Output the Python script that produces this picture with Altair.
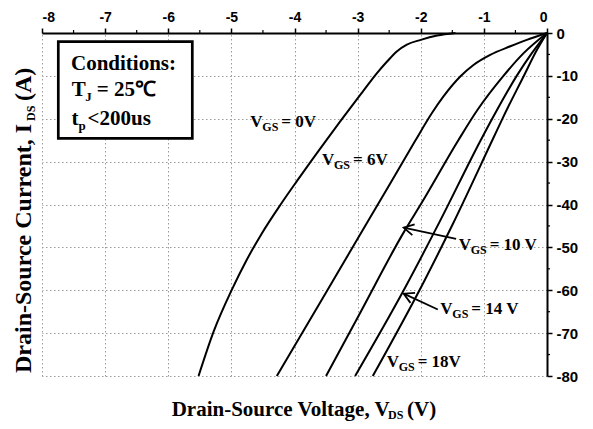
import math
import altair as alt
import pandas as pd

# ---------------- data ----------------
vgs_names = ["0V", "6V", "10V", "14V", "18V"]

vds_0 = [-1.45, -1.74, -2.00, -2.22, -2.38, -2.53, -2.69, -2.93, -3.27, -3.59, -3.96, -4.22, -4.52, -4.76, -4.99, -5.28, -5.52]
ids_0 = [0, -0.6, -1.6, -2.7, -4.3, -6.6, -9.3, -13.9, -20.5, -26.9, -34.5, -40.0, -46.8, -53.0, -59.8, -69.6, -80]

vds_6 = [0, -0.32, -0.58, -0.90, -1.16, -1.37, -1.64, -1.82, -2.09, -2.50, -3.00, -3.50, -4.00, -4.28]
ids_6 = [0, -1.6, -3.1, -5.1, -7.4, -10.1, -14.8, -18.6, -25.2, -35.5, -48.0, -60.5, -73.0, -80]

vds_10 = [0, -0.37, -0.69, -1.10, -1.40, -1.98, -2.27, -2.95, -3.50]
ids_10 = [0, -4.7, -10.0, -17.9, -24.9, -39.5, -46.5, -65.0, -80]

vds_14 = [0, -0.24, -0.48, -0.79, -1.05, -1.70, -2.27, -3.04]
ids_14 = [0, -4.7, -10.0, -17.9, -25.0, -44.0, -60.0, -80]

vds_18 = [0, -0.18, -0.35, -0.69, -0.85, -1.49, -1.95, -2.76]
ids_18 = [0, -4.5, -9.5, -19.5, -24.5, -44.5, -58.0, -80]

x_ticks = [-8, -7, -6, -5, -4, -3, -2, -1, 0]
y_ticks = [0, -10, -20, -30, -40, -50, -60, -70, -80]
x_minor = [-7.5, -6.5, -5.5, -4.5, -3.5, -2.5, -1.5, -0.5]
y_minor = [-5, -15, -25, -35, -45, -55, -65, -75]

# curve labels: anchor (V, I) of the leading "V", and the text after the subscript
label_v = [-4.70, -3.565, -1.40, -1.69, -2.54]
label_i = [-22.0, -30.9, -50.5, -65.6, -78.0]
label_rest = ["= 0V", "= 6V", "= 10 V", "= 14 V", "= 18V"]

# arrows: tail (V, I) -> tip (V2, I2)
arrow_v = [-1.44, -1.73]
arrow_i = [-48.0, -64.5]
arrow_v2 = [-2.27, -2.27]
arrow_i2 = [-45.4, -60.8]

# ---------------- layout / style ----------------
W, H = 505, 343
SERIF = "Liberation Serif"
SANS = "Liberation Sans"

rows = []
for name, vs, is_ in zip(vgs_names,
                         [vds_0, vds_6, vds_10, vds_14, vds_18],
                         [ids_0, ids_6, ids_10, ids_14, ids_18]):
    for v, i in zip(vs, is_):
        rows.append({"VGS": name, "V": v, "I": i})
curves_df = pd.DataFrame(rows)

labels_df = pd.DataFrame({"V": label_v, "I": label_i, "rest": label_rest})

angles = []
for v, i, v2, i2 in zip(arrow_v, arrow_i, arrow_v2, arrow_i2):
    dx = (v2 - v) * W / 8.0
    dy = -(i2 - i) * H / 80.0
    angles.append(math.degrees(math.atan2(dy, dx)) % 360)
arrows_df = pd.DataFrame({"V": arrow_v, "I": arrow_i, "V2": arrow_v2, "I2": arrow_i2, "ang": angles})

xminor_df = pd.DataFrame({"V": x_minor})
yminor_df = pd.DataFrame({"I": y_minor})
one = pd.DataFrame({"k": [0]})

grid_kw = dict(grid=True, gridColor="#9a9a9a", gridDash=[1.5, 2.5], gridWidth=1)
lab_kw = dict(labelFont=SANS, labelFontWeight="bold", labelColor="black",
              labelExpr="datum.value + ''")

x_enc = alt.X("V:Q", scale=alt.Scale(domain=[-8, 0], nice=False, zero=False),
              axis=alt.Axis(orient="top", values=x_ticks, title=None,
                            domainColor="black", domainWidth=2,
                            tickColor="black", tickWidth=1.5, tickSize=5,
                            labelPadding=4, labelFontSize=14, **grid_kw, **lab_kw))
y_enc = alt.Y("I:Q", scale=alt.Scale(domain=[-80, 0], nice=False, zero=False),
              axis=alt.Axis(orient="right", values=y_ticks, title=None,
                            domainColor="black", domainWidth=2,
                            tickColor="black", tickWidth=1.5, tickSize=5,
                            labelPadding=4, labelAlign="left", labelFontSize=15,
                            **grid_kw, **lab_kw))

curves = alt.Chart(curves_df).mark_line(color="black", strokeWidth=2, interpolate="monotone").encode(
    x=x_enc, y=y_enc, detail="VGS:N")

box = alt.Chart(one).mark_rect(fill="white", stroke="black", strokeWidth=2.7).encode(
    x=alt.value(16.3), x2=alt.value(150.3), y=alt.value(8.7), y2=alt.value(105.4))


def txt(text, px, py, size, dx=0, dy=0, angle=0):
    kw = dict(text=text, font=SERIF, fontWeight="bold", fontSize=size, color="black",
              align="left", baseline="alphabetic", dx=dx, dy=dy)
    if angle:
        kw["angle"] = angle
    return alt.Chart(one).mark_text(**kw).encode(x=alt.value(px), y=alt.value(py))


box_text = [
    txt("Conditions:", 29, 37, 21),
    txt("T", 29.7, 62.7, 21),
    txt("J", 29.7, 62.7, 13, dx=13.5, dy=5),
    txt("= 25℃", 29.7, 62.7, 21, dx=25),
    txt("t", 29.5, 91.5, 21),
    txt("p", 29.5, 91.5, 13, dx=7, dy=5),
    txt("<200us", 29.5, 91.5, 21, dx=16),
]

lab_base = alt.Chart(labels_df).encode(x="V:Q", y="I:Q")
lab_v = lab_base.mark_text(text="V", font=SERIF, fontWeight="bold", fontSize=17, color="black",
                           align="left", baseline="alphabetic")
lab_gs = lab_base.mark_text(text="GS", font=SERIF, fontWeight="bold", fontSize=12, color="black",
                            align="left", baseline="alphabetic", dx=12, dy=4)
lab_rest = lab_base.mark_text(font=SERIF, fontWeight="bold", fontSize=17, color="black",
                              align="left", baseline="alphabetic", dx=31).encode(text="rest:N")

arrow_shaft = alt.Chart(arrows_df).mark_rule(color="black", strokeWidth=1.8).encode(
    x="V:Q", y="I:Q", x2="V2:Q", y2="I2:Q")
arrow_head = alt.Chart(arrows_df).mark_point(
    shape="M -1 -0.55 L 0 0 L -1 0.55", filled=False, stroke="black", strokeWidth=1.8, size=400,
    opacity=1).encode(x="V2:Q", y="I2:Q", angle=alt.Angle("ang:Q", scale=None))

minor_x = alt.Chart(xminor_df).mark_rule(color="black", strokeWidth=1.2).encode(
    x="V:Q", y=alt.value(0), y2=alt.value(-3))
minor_y = alt.Chart(yminor_df).mark_rule(color="black", strokeWidth=1.2).encode(
    y="I:Q", x=alt.value(W), x2=alt.value(W + 3))

titles = [
    txt("Drain-Source Voltage, V", 129.7, 382.5, 21),
    txt("DS", 346, 386, 12),
    txt("(V)", 365, 382.5, 21),
    txt("Drain-Source Current, I", -11, 340, 24, angle=270),
    txt("DS", -11, 88, 12, dy=4, angle=270),
    txt("(A)", -11, 68, 24, angle=270),
]

chart = alt.layer(
    box, curves, arrow_shaft, arrow_head, lab_v, lab_gs, lab_rest, minor_x, minor_y,
    *box_text, *titles
).properties(
    width=W, height=H,
    autosize=alt.AutoSizeParams(type="none"),
    padding={"left": 34, "top": 25, "right": 38, "bottom": 45},
).configure_view(stroke=None)

chart.save("out.html", embed_options={"renderer": "svg", "actions": False})
